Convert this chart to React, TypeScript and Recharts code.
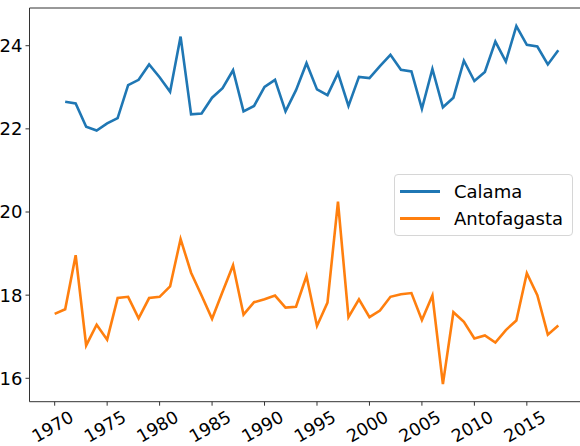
import { LineChart, Line, XAxis, YAxis, ReferenceLine } from 'recharts';

const years = [
  1970, 1971, 1972, 1973, 1974, 1975, 1976, 1977, 1978, 1979,
  1980, 1981, 1982, 1983, 1984, 1985, 1986, 1987, 1988, 1989,
  1990, 1991, 1992, 1993, 1994, 1995, 1996, 1997, 1998, 1999,
  2000, 2001, 2002, 2003, 2004, 2005, 2006, 2007, 2008, 2009,
  2010, 2011, 2012, 2013, 2014, 2015, 2016, 2017, 2018,
];

// Calama has no value for 1970
const calama = [
  null, 22.65, 22.61, 22.05, 21.96, 22.13, 22.26, 23.05, 23.18, 23.55,
  23.24, 22.89, 24.22, 22.35, 22.37, 22.75, 22.98, 23.41, 22.42, 22.55,
  23.01, 23.18, 22.42, 22.93, 23.58, 22.95, 22.81, 23.34, 22.55, 23.25,
  23.22, 23.51, 23.78, 23.42, 23.38, 22.48, 23.44, 22.52, 22.75, 23.64,
  23.15, 23.37, 24.1, 23.62, 24.47, 24.02, 23.98, 23.55, 23.89,
];

const antofagasta = [
  17.55, 17.66, 18.96, 16.79, 17.29, 16.93, 17.93, 17.96, 17.44, 17.93,
  17.96, 18.21, 19.35, 18.54, 17.99, 17.43, 18.08, 18.72, 17.53, 17.83,
  17.9, 17.99, 17.7, 17.72, 18.46, 17.26, 17.82, 20.25, 17.47, 17.9,
  17.47, 17.63, 17.96, 18.02, 18.05, 17.4, 17.99, 15.86, 17.59, 17.36,
  16.96, 17.03, 16.86, 17.16, 17.39, 18.53, 18.0, 17.05, 17.27,
];

const xTicks = [1970, 1975, 1980, 1985, 1990, 1995, 2000, 2005, 2010, 2015];
const yTicks = [16, 18, 20, 22, 24];

const seriesNames = ['Calama', 'Antofagasta'];
const colors = ['#1f77b4', '#ff7f0e'];

const data = years.map((year, i) => ({
  year,
  Calama: calama[i],
  Antofagasta: antofagasta[i],
}));

const X_DOMAIN = [1967.6, 2020.4];
const Y_DOMAIN = [15.437, 24.907];
const FONT = 'DejaVu Sans, sans-serif';
const SPINE = '#333';

const RotatedTick = (props: any) => {
  const { x, y, payload } = props;
  const cx = x - 2;
  const cy = y + 19;
  return (
    <text
      x={cx}
      y={cy}
      textAnchor="middle"
      dominantBaseline="central"
      transform={`rotate(-30, ${cx}, ${cy})`}
      fontSize={17.5}
      fontFamily={FONT}
      fill="#000"
    >
      {payload.value}
    </text>
  );
};

// legend drawn outside recharts so it does not take space from the plot
const LegendBox = () => (
  <div
    style={{
      position: 'absolute',
      left: 394,
      top: 174,
      width: 177,
      height: 60,
      border: '1px solid #d6d6d6',
      borderRadius: 4,
      background: 'rgba(255,255,255,0.8)',
      fontFamily: FONT,
      fontSize: 18,
    }}
  >
    {seriesNames.map((name, i) => (
      <div
        key={name}
        style={{ position: 'absolute', left: 5, top: 4 + i * 27.6, height: 24, display: 'flex', alignItems: 'center' }}
      >
        <div style={{ width: 40, height: 3, background: colors[i] }} />
        <span style={{ marginLeft: 14, color: '#000' }}>{name}</span>
      </div>
    ))}
  </div>
);

const App = () => {
  return (
    <div style={{ position: 'absolute', left: 0, top: 0, width: 580, height: 446, overflow: 'hidden', background: '#fff' }}>
      <LineChart
        width={590}
        height={446}
        data={data}
        margin={{ top: 8, right: 6.5, left: 0, bottom: 0 }}
      >
        <XAxis
          dataKey="year"
          type="number"
          domain={X_DOMAIN}
          ticks={xTicks}
          allowDataOverflow
          height={44.3}
          stroke={SPINE}
          tickSize={4}
          tickLine={{ stroke: SPINE }}
          axisLine={{ stroke: SPINE, strokeWidth: 1 }}
          tick={<RotatedTick />}
        />
        <YAxis
          type="number"
          domain={Y_DOMAIN}
          ticks={yTicks}
          allowDataOverflow
          width={29.5}
          stroke={SPINE}
          tickSize={4}
          tickMargin={3}
          tick={{ fill: '#000', fontSize: 18, fontFamily: FONT }}
          axisLine={{ stroke: SPINE, strokeWidth: 1 }}
        />
        <ReferenceLine y={Y_DOMAIN[1]} stroke={SPINE} strokeWidth={1} />
        <ReferenceLine x={X_DOMAIN[1]} stroke={SPINE} strokeWidth={1} />
        {seriesNames.map((name, i) => (
          <Line
            key={name}
            dataKey={name}
            type="linear"
            stroke={colors[i]}
            strokeWidth={2.6}
            dot={false}
            activeDot={false}
            isAnimationActive={false}
          />
        ))}
      </LineChart>
      <LegendBox />
    </div>
  );
};

export default App;
